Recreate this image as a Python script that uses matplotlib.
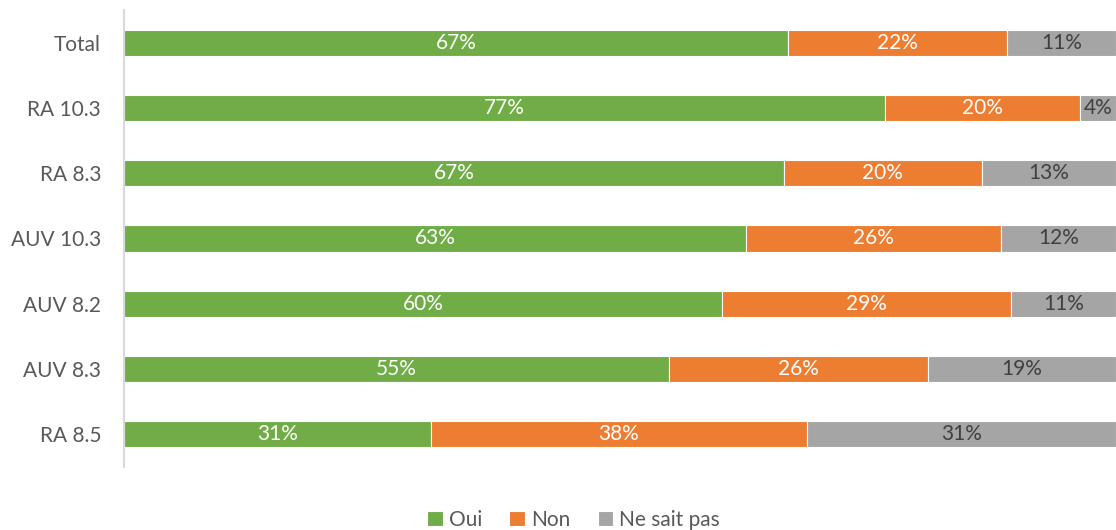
import matplotlib
matplotlib.use("Agg")
import matplotlib.pyplot as plt
import numpy as np

# data (share of answers, %)
categories = ['Total', 'RA 10.3', 'RA 8.3', 'AUV 10.3', 'AUV 8.2', 'AUV 8.3', 'RA 8.5']
oui = [66.9, 76.7, 66.5, 62.7, 60.3, 54.9, 30.9]
non = [22.1, 19.7, 20.0, 25.7, 29.1, 26.1, 38.0]
nsp = [11.0, 3.6, 13.5, 11.6, 10.6, 19.0, 31.1]
labels_oui = ['67%', '77%', '67%', '63%', '60%', '55%', '31%']
labels_non = ['22%', '20%', '20%', '26%', '29%', '26%', '38%']
labels_nsp = ['11%', '4%', '13%', '12%', '11%', '19%', '31%']
series_names = ['Oui', 'Non', 'Ne sait pas']

COLORS = ['#70ad47', '#ed7d31', '#a5a5a5']
TEXT_COLORS = ['white', 'white', '#404040']

plt.rcParams['font.family'] = ['Lato', 'DejaVu Sans']

fig = plt.figure(figsize=(11.16, 5.3), dpi=100)
ax = fig.add_axes([124 / 1116, 1 - 467 / 530, 992 / 1116, 457 / 530])

y = np.arange(len(categories))
left = np.zeros(len(categories))
for vals, labs, name, col, tcol in zip([oui, non, nsp], [labels_oui, labels_non, labels_nsp],
                                         series_names, COLORS, TEXT_COLORS):
    vals = np.array(vals)
    bars = ax.barh(y, vals, left=left, height=0.4, color=col, label=name,
                   edgecolor='white', linewidth=0.8)
    for b, lab in zip(bars, labs):
        ax.text(b.get_x() + b.get_width() / 2, b.get_y() + b.get_height() / 2, lab,
                ha='center', va='center', color=tcol, fontsize=15)
    left += vals

ax.set_xlim(0, 100)
ax.set_ylim(len(categories) - 0.5, -0.5)
ax.set_yticks(y)
ax.set_yticklabels(categories, fontsize=15, color='#595959')
ax.tick_params(axis='y', length=0, pad=16.5)
ax.set_xticks([])
for s in ['top', 'right', 'bottom']:
    ax.spines[s].set_visible(False)
ax.spines['left'].set_color('#d9d9d9')
ax.spines['left'].set_linewidth(1.5)

leg = fig.legend(loc='lower center', bbox_to_anchor=(0.514, -0.035), ncol=3, frameon=False,
                 fontsize=15, handlelength=0.75, handleheight=0.75, handletextpad=0.3,
                 columnspacing=1.3)
for t in leg.get_texts():
    t.set_color('#595959')

fig.savefig('out.png', dpi=100)
